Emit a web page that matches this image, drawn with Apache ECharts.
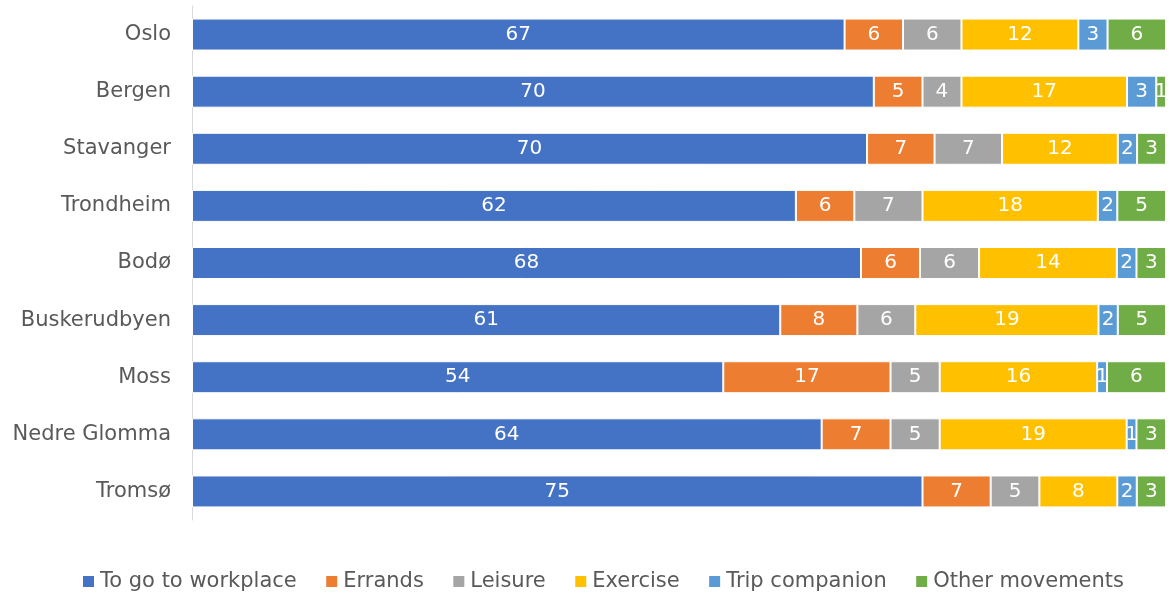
<!DOCTYPE html>
<html>
<head>
<meta charset="utf-8">
<script src="https://cdn.jsdelivr.net/npm/echarts@6/dist/echarts.min.js"></script>
<style>
  html, body { margin: 0; padding: 0; background: #fff; }
  #chart { width: 1171px; height: 593px; }
</style>
</head>
<body>
<div id="chart"></div>
<script>
// Purpose of trips by urban area (percent, rounded)
const cities = ['Oslo', 'Bergen', 'Stavanger', 'Trondheim', 'Bodø', 'Buskerudbyen', 'Moss', 'Nedre Glomma', 'Tromsø'];
const workplace = [67, 70, 70, 62, 68, 61, 54, 64, 75];
const errands = [6, 5, 7, 6, 6, 8, 17, 7, 7];
const leisure = [6, 4, 7, 7, 6, 6, 5, 5, 5];
const exercise = [12, 17, 12, 18, 14, 19, 16, 19, 8];
const companion = [3, 3, 2, 2, 2, 2, 1, 1, 2];
const other = [6, 1, 3, 5, 3, 5, 6, 3, 3];

const seriesDefs = [
  { name: 'To go to workplace', values: workplace, color: '#4472C4' },
  { name: 'Errands', values: errands, color: '#ED7D31' },
  { name: 'Leisure', values: leisure, color: '#A5A5A5' },
  { name: 'Exercise', values: exercise, color: '#FFC000' },
  { name: 'Trip companion', values: companion, color: '#5B9BD5' },
  { name: 'Other movements', values: other, color: '#70AD47' }
];

// Each bar is a 100% stack: segment length = share of the city's total
const totals = cities.map((_, i) => seriesDefs.reduce((s, d) => s + d.values[i], 0));

const FONT = 'DejaVu Sans';

const chart = echarts.init(document.getElementById('chart'), null, { renderer: 'canvas' });
chart.setOption({
  animation: false,
  textStyle: { fontFamily: FONT },
  grid: { left: 192, right: 5, top: 6, bottom: 73, containLabel: false },
  legend: {
    top: 566,
    left: 76,
    itemWidth: 13,
    itemHeight: 13,
    itemGap: 27.5,
    icon: 'rect',
    textStyle: { fontFamily: FONT, fontSize: 21, color: '#595959' },
    data: seriesDefs.map(d => d.name)
  },
  xAxis: {
    type: 'value',
    min: 0,
    max: 100,
    show: false
  },
  yAxis: {
    type: 'category',
    data: cities,
    inverse: true,
    axisLine: { show: true, lineStyle: { color: '#D9D9D9', width: 1 } },
    axisTick: { show: false },
    axisLabel: { fontFamily: FONT, fontSize: 21, color: '#595959', margin: 21 }
  },
  series: seriesDefs.map(d => ({
    name: d.name,
    type: 'bar',
    stack: 'total',
    barCategoryGap: '44%',
    itemStyle: { color: d.color, borderColor: '#FFFFFF', borderWidth: 1 },
    label: {
      show: true,
      position: 'inside',
      color: '#FFFFFF',
      fontFamily: FONT,
      fontSize: 20,
      formatter: p => String(d.values[p.dataIndex])
    },
    data: d.values.map((v, i) => v / totals[i] * 100)
  }))
});
</script>
</body>
</html>
